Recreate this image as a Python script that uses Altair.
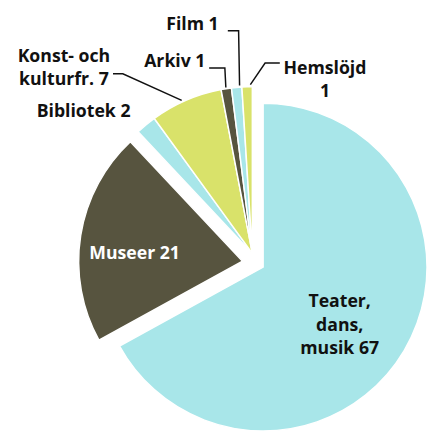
import math
import altair as alt
import pandas as pd

# ---- data ----
categories = ["Teater, dans, musik", "Museer", "Bibliotek", "Konst- och kulturfr.",
              "Arkiv", "Film", "Hemslöjd"]
values = [67, 21, 2, 7, 1, 1, 1]
order = [0, 1, 2, 3, 4, 5, 6]
groups = ["teater", "museer", "rest", "rest", "rest", "rest", "rest"]
colors = ["#A8E6E9", "#57543F", "#A8E6E9", "#D9E26A", "#57543F", "#A8E6E9", "#D9E26A"]

label_texts = ["Teater,\ndans,\nmusik 67", "Museer 21", "Bibliotek 2",
               "Konst- och\nkulturfr. 7", "Arkiv 1", "Film 1", "Hemslöjd\n1"]
label_x = [338, 129, 77, 57, 170, 188, 323]
label_y = [296, 247, 102, 45.5, 51, 13, 58]
label_fill = ["#111111", "#FFFFFF", "#111111", "#111111", "#111111", "#111111", "#111111"]

leader_id = ["konst"] * 3 + ["arkiv"] * 3 + ["film"] * 3 + ["hems"] * 3
leader_seq = [0, 1, 2] * 4
leader_x = [107, 117, 177, 205, 221, 222, 224, 235, 236, 277, 262, 247]
leader_y = [63, 63, 90, 57, 57, 77, 19, 19, 75, 52, 52, 74]

W, H = 427, 428

df = pd.DataFrame({"category": categories, "value": values, "order": order, "group": groups})
labels = pd.DataFrame({"text": label_texts, "lx": label_x, "ly": label_y, "fill": label_fill})
leaders = pd.DataFrame({"id": leader_id, "seq": leader_seq, "lx": leader_x, "ly": leader_y})

theta_scale = alt.Scale(domain=[0, 100], range=[0, 2 * math.pi])
color = alt.Color("category:N", scale=alt.Scale(domain=categories, range=colors), legend=None)

base = (alt.Chart(df)
        .transform_window(cum="sum(value)", sort=[alt.SortField("order")], frame=[None, 0])
        .transform_calculate(start="datum.cum - datum.value"))


def pie_layer(group, cx, cy, r):
    return (base.transform_filter(alt.datum.group == group)
            .mark_arc(stroke="white", strokeWidth=1.5)
            .encode(theta=alt.Theta("start:Q", scale=theta_scale),
                    theta2="cum:Q",
                    color=color,
                    x=alt.value(cx), y=alt.value(cy), radius=alt.value(r)))


teater = pie_layer("teater", 260, 260, 167)
museer = pie_layer("museer", 239, 254, 167)
rest = pie_layer("rest", 249, 246, 170)

xs = alt.Scale(domain=[0, W], range=[0, W], nice=False, zero=False)
ys = alt.Scale(domain=[0, H], range=[0, H], nice=False, zero=False)

text = alt.Chart(labels).mark_text(
    font="Open Sans", fontWeight="bold", fontSize=18, lineBreak="\n", lineHeight=24,
    align="center", baseline="middle"
).encode(
    x=alt.X("lx:Q", scale=xs, axis=None),
    y=alt.Y("ly:Q", scale=ys, axis=None),
    text="text:N",
    color=alt.Color("fill:N", scale=None),
)

lines = alt.Chart(leaders).mark_line(color="#111111", strokeWidth=1.5).encode(
    x=alt.X("lx:Q", scale=xs, axis=None),
    y=alt.Y("ly:Q", scale=ys, axis=None),
    detail="id:N",
    order="seq:Q",
)

chart = (alt.layer(teater, museer, rest, lines, text)
         .resolve_scale(color="independent")
         .properties(width=W, height=H, autosize="none", padding=0, background="white")
         .configure_view(stroke=None))

chart.save("out.html", embed_options={"renderer": "svg", "actions": False})
